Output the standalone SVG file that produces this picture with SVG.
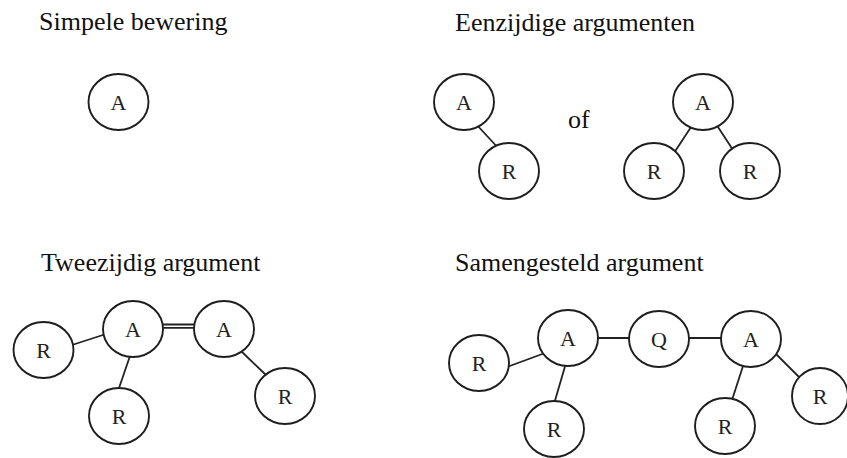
<svg xmlns="http://www.w3.org/2000/svg" width="847" height="458" viewBox="0 0 847 458">
<style>
.title{font-family:"Liberation Serif","Times New Roman",serif;font-size:26px;fill:#111}
.node ellipse{fill:#fff;stroke:#1e1e1e;stroke-width:1.9}
.node text{font-family:"Liberation Serif","Times New Roman",serif;font-size:22px;fill:#222;text-anchor:middle}
.conn line{stroke:#222;stroke-width:1.8}
</style>
<rect width="847" height="458" fill="#fff"/>
<text class="title" x="39" y="30">Simpele bewering</text>
<text class="title" x="455" y="31">Eenzijdige argumenten</text>
<text class="title" x="41" y="271">Tweezijdig argument</text>
<text class="title" x="455" y="271">Samengesteld argument</text>
<text class="title" x="568" y="128">of</text>
<g id="connectors" class="conn">
<line x1="476" y1="124" x2="500" y2="150"/>
<line x1="693" y1="124" x2="672" y2="156"/>
<line x1="716" y1="124" x2="735" y2="153"/>
<line x1="72" y1="345" x2="106" y2="334"/>
<line x1="161" y1="324.5" x2="195" y2="324.5"/>
<line x1="161" y1="327.8" x2="195" y2="327.8"/>
<line x1="131" y1="353" x2="118" y2="391"/>
<line x1="240" y1="350" x2="267" y2="376"/>
<line x1="507" y1="367" x2="545" y2="353"/>
<line x1="596" y1="338" x2="631" y2="338"/>
<line x1="688" y1="338" x2="723" y2="338"/>
<line x1="566" y1="363" x2="554" y2="404"/>
<line x1="744" y1="363" x2="732" y2="400"/>
<line x1="775" y1="353" x2="800" y2="378"/>
</g>
<g id="n1" class="node"><ellipse cx="118.5" cy="102" rx="30" ry="28"/><text x="118.5" y="110">A</text></g>
<g id="n2" class="node"><ellipse cx="464" cy="102" rx="30" ry="28"/><text x="464" y="110">A</text></g>
<g id="n3" class="node"><ellipse cx="509" cy="171" rx="30" ry="28"/><text x="509" y="179">R</text></g>
<g id="n4" class="node"><ellipse cx="703" cy="102" rx="30" ry="28"/><text x="703" y="110">A</text></g>
<g id="n5" class="node"><ellipse cx="654" cy="171" rx="30" ry="28"/><text x="654" y="179">R</text></g>
<g id="n6" class="node"><ellipse cx="750" cy="171" rx="30" ry="28"/><text x="750" y="179">R</text></g>
<g id="n7" class="node"><ellipse cx="43.5" cy="350" rx="30" ry="28"/><text x="43.5" y="358">R</text></g>
<g id="n8" class="node"><ellipse cx="133" cy="329" rx="30" ry="28"/><text x="133" y="337">A</text></g>
<g id="n9" class="node"><ellipse cx="224" cy="329" rx="30" ry="28"/><text x="224" y="337">A</text></g>
<g id="n10" class="node"><ellipse cx="119" cy="416" rx="30" ry="28"/><text x="119" y="424">R</text></g>
<g id="n11" class="node"><ellipse cx="285" cy="396" rx="30" ry="28"/><text x="285" y="404">R</text></g>
<g id="n12" class="node"><ellipse cx="479" cy="363" rx="30" ry="28"/><text x="479" y="371">R</text></g>
<g id="n13" class="node"><ellipse cx="568" cy="338" rx="30" ry="28"/><text x="568" y="346">A</text></g>
<g id="n14" class="node"><ellipse cx="659" cy="339" rx="30" ry="28"/><text x="659" y="347">Q</text></g>
<g id="n15" class="node"><ellipse cx="751" cy="339" rx="30" ry="28"/><text x="751" y="347">A</text></g>
<g id="n16" class="node"><ellipse cx="554" cy="429" rx="30" ry="28"/><text x="554" y="437">R</text></g>
<g id="n17" class="node"><ellipse cx="725" cy="426" rx="30" ry="28"/><text x="725" y="434">R</text></g>
<g id="n18" class="node"><ellipse cx="820" cy="396" rx="28" ry="28"/><text x="820" y="404">R</text></g>
</svg>
